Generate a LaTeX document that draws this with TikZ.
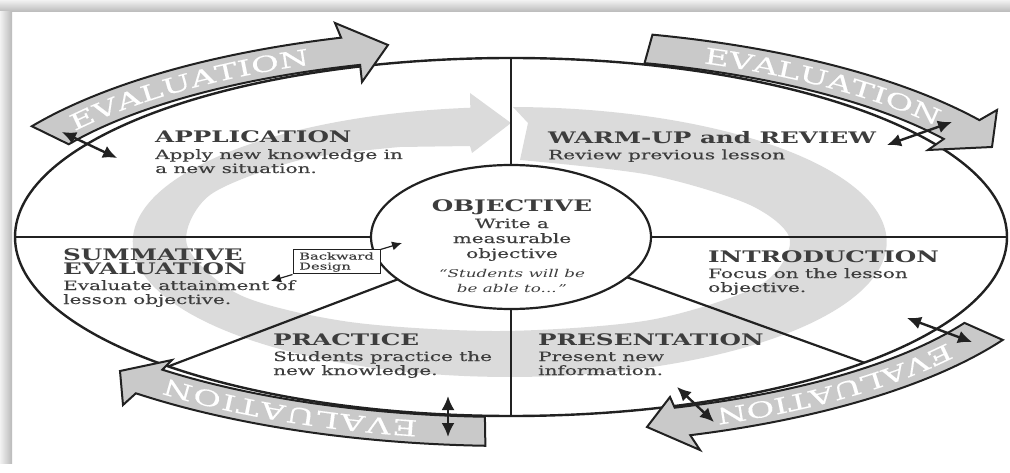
\documentclass[tikz,border=0pt]{standalone}
\usepackage{fontspec}
\setmainfont[FakeStretch=1.55, UprightFeatures={FakeBold=0.3}]{DejaVu Serif}
\usetikzlibrary{arrows.meta,calc,decorations.text}

\definecolor{ink}{gray}{0.13}
\definecolor{txt}{gray}{0.24}
\definecolor{swirl}{gray}{0.86}
\definecolor{bandgray}{gray}{0.79}

\newcommand\hd[1]{{\bfseries\fontsize{15.9}{14}\selectfont #1}}

\tikzset{blk/.style={anchor=north west, align=left, inner sep=0pt, text=txt, font=\fontsize{12.9}{14}\selectfont}}
\tikzset{divider/.style={draw=ink, line width=2.2pt}}
\tikzset{evalband/.style={fill=bandgray, draw=ink, line width=2pt, line join=miter}}
\tikzset{
		% white EVALUATION spread along the middle of a band
		evaltext/.style={decorate, decoration={text along path, text={|\fontsize{22}{22}\selectfont|EVALUATION},
				text color=white, text align={fit to path}, raise=-8pt}},
		dbl/.style={draw=ink, line width=2.4pt, {Latex[length=14pt,width=13pt]}-{Latex[length=14pt,width=13pt]}},
		bdbox/.style={draw=ink, line width=1pt, fill=white, minimum width=87pt, minimum height=24pt, align=left, inner sep=2pt, text=txt, font=\fontsize{9.5}{10}\selectfont},
		bdarrow/.style={draw=ink, line width=1.2pt, -{Latex[length=10pt,width=9pt]}},
	}

\begin{document}
\begin{tikzpicture}[x=1pt,y=-1pt]
		\useasboundingbox (0,0) rectangle (1010,473);
		\shade[top color=gray!10, bottom color=gray!55] (0,0) rectangle (1010,12);
		\shade[left color=gray!10, right color=gray!55] (0,12) rectangle (12,463);
		
		\coordinate (c) at (511,237);
		
		% big grey cycle arrow behind the text
		\fill[swirl] (513,107) arc[start angle=-89.5, end angle=264, x radius=377, y radius=135]
			-- (470,93) -- (511,123) -- (472,153) -- (470,146)
			-- plot[smooth] coordinates {(400,147) (300,160) (210,195) (187,245) (240,295) (350,322) (500,331) (650,320) (760,285) (790,240) (750,205) (650,175) (520,160)}
			-- (528,123) -- cycle;
		
		\draw[ink, line width=2.4pt] (c) ellipse[x radius=496, y radius=179];
		\draw[divider] ($(c)+(270:496 and 179)$) -- ($(c)+(270:140 and 72)$);
		\draw[divider] ($(c)+(90:496 and 179)$) -- ($(c)+(90:140 and 72)$);
		\draw[divider] ($(c)+(180:496 and 179)$) -- ($(c)+(180:140 and 72)$);
		\draw[divider] ($(c)+(0:496 and 179)$) -- ($(c)+(0:140 and 72)$);
		\draw[divider] ($(c)+(133.7:496 and 179)$) -- ($(c)+(144:140 and 72)$);
		\draw[divider] ($(c)+(44.6:496 and 179)$) -- ($(c)+(34:140 and 72)$);
		\draw[ink, line width=2.2pt, fill=white] (c) ellipse[x radius=140, y radius=72];
		
		% the four EVALUATION arrows
		\draw[evalband] ($(c)+(212:565 and 209)$) arc[start angle=212, end angle=252.5, x radius=565, y radius=209]
			-- (335,23) -- (388,45) -- (362,82) -- ($(c)+(253:516 and 180)$) arc[start angle=253, end angle=211, x radius=516, y radius=180] -- cycle;
		\draw[evalband] ($(c)+(284.5:565 and 209)$) arc[start angle=284.5, end angle=326, x radius=565, y radius=209]
			-- (997,110) -- (992,147) -- (928,150) -- ($(c)+(327:516 and 180)$) arc[start angle=327, end angle=285, x radius=516, y radius=180] -- cycle;
		\draw[evalband] ($(c)+(29.5:565 and 209)$) arc[start angle=29.5, end angle=71.5, x radius=565, y radius=209]
			-- (700,450) -- (647,427) -- (670,397) -- ($(c)+(71.5:516 and 180)$) arc[start angle=71.5, end angle=28.5, x radius=516, y radius=180] -- cycle;
		\draw[evalband] ($(c)+(92.6:565 and 209)$) arc[start angle=92.6, end angle=131.6, x radius=565, y radius=209]
			-- (123,405) -- (120,371) -- (172,360) -- ($(c)+(132.5:516 and 180)$) arc[start angle=132.5, end angle=92.9, x radius=516, y radius=180] -- cycle;
		
		\path[evaltext] ($(c)+(215.5:540.5 and 194.5)$) arc[start angle=215.5, end angle=248, x radius=540.5, y radius=194.5];
		\path[evaltext] ($(c)+(291:540.5 and 194.5)$) arc[start angle=291, end angle=322.5, x radius=540.5, y radius=194.5];
		\path[evaltext] ($(c)+(35.5:540.5 and 194.5)$) arc[start angle=35.5, end angle=67.5, x radius=540.5, y radius=194.5];
		\path[evaltext] ($(c)+(100:540.5 and 194.5)$) arc[start angle=100, end angle=130, x radius=540.5, y radius=194.5];
		
		% texts of the lesson stages
		\node[blk] (app) at (155,131) {\hd{APPLICATION}\\[2pt]Apply new knowledge in\\a new situation.};
		\node[blk] (warm) at (548,131) {\hd{WARM-UP and REVIEW}\\[2pt]Review previous lesson};
		\node[blk] (summ) at (63,248) {\hd{SUMMATIVE}\\\hd{EVALUATION}\\[2pt]Evaluate attainment of\\lesson objective.};
		\node[blk] (intro) at (708,250) {\hd{INTRODUCTION}\\[2pt]Focus on the lesson\\objective.};
		\node[blk] (prac) at (273,333) {\hd{PRACTICE}\\[2pt]Students practice the\\new knowledge.};
		\node[blk] (pres) at (538,333) {\hd{PRESENTATION}\\[2pt]Present new\\information.};
		\node[blk, anchor=north, align=center, font=\fontsize{12.9}{15}\selectfont] (obj) at (512,199) {\hd{OBJECTIVE}\\[2pt]Write a\\measurable\\objective\\[4pt]{\itshape\fontsize{10.8}{15}\selectfont “Students will be}\\{\itshape\fontsize{10.8}{15}\selectfont be able to...\,”}};
		
		\node[bdbox] (bd) at (336.5,262) {Backward\\Design};
		\coordinate (bdin) at (402,243);
		\coordinate (bdout) at (271,281);
		\draw[bdarrow] (bd.north east) -- (bdin);
		\draw[bdarrow] (bd.south west) -- (bdout);
		
		% double arrows between the stages and the evaluation
		\coordinate (d1a) at (62,132); \coordinate (d1b) at (117,158);
		\coordinate (d2a) at (887,145); \coordinate (d2b) at (952,122);
		\coordinate (d3a) at (907,318); \coordinate (d3b) at (972,342);
		\coordinate (d4a) at (677,387); \coordinate (d4b) at (714,422);
		\coordinate (d5a) at (448,396); \coordinate (d5b) at (448,437);
		\draw[dbl] (d1a) -- (d1b);
		\draw[dbl] (d2a) -- (d2b);
		\draw[dbl] (d3a) -- (d3b);
		\draw[dbl] (d4a) -- (d4b);
		\draw[dbl] (d5a) -- (d5b);
		
\end{tikzpicture}
\end{document}
